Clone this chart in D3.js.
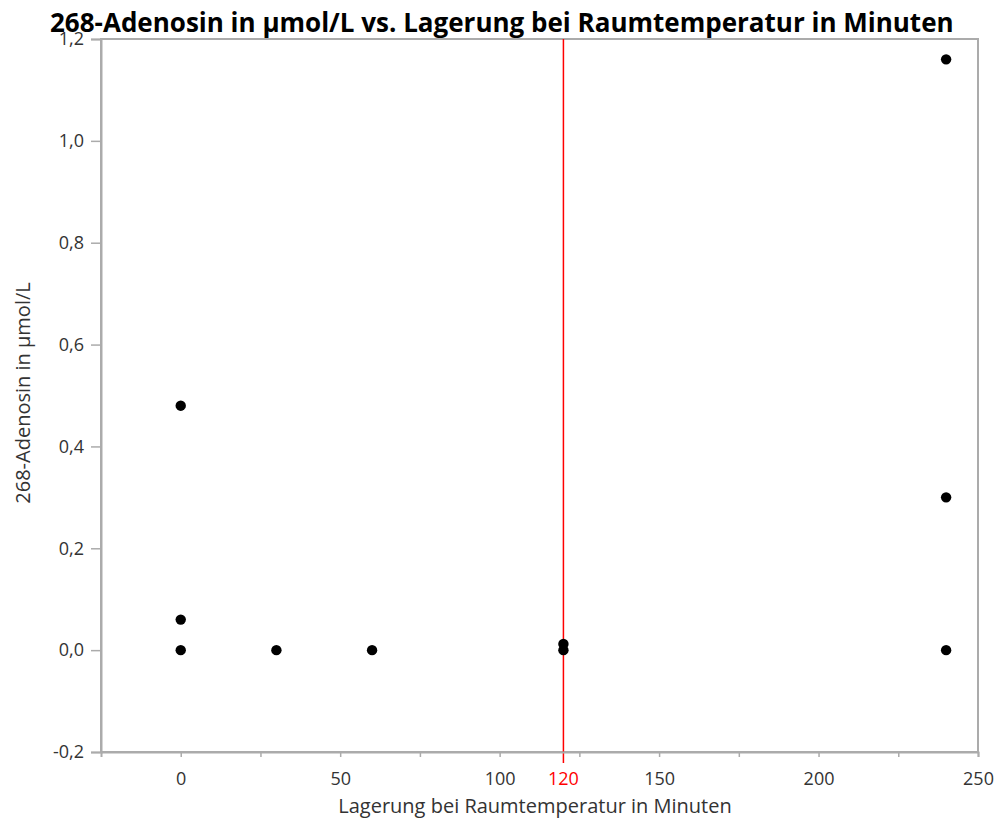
<!DOCTYPE html>
<html>
<head>
<meta charset="utf-8">
<script src="https://cdn.jsdelivr.net/npm/d3@7"></script>
<style>
  body { margin: 0; background: #fff; }
  text { font-family: "Open Sans", "Noto Sans", sans-serif; }
</style>
</head>
<body>
<svg id="chart" width="1001" height="825"></svg>
<script>
// data
var minutes = [0, 0, 0, 30, 60, 120, 120, 240, 240, 240];
var adenosin = [0.48, 0.06, 0.0, 0.0, 0.0, 0.0, 0.012, 1.16, 0.30, 0.0];
var xTicks = [0, 50, 100, 150, 200, 250];
var xMinorTicks = [25, 75, 125, 175, 225];
var yTicks = [-0.2, 0, 0.2, 0.4, 0.6, 0.8, 1.0, 1.2];
var refLine = 120;

var titleText = "268-Adenosin in µmol/L vs. Lagerung bei Raumtemperatur in Minuten";
var xLabel = "Lagerung bei Raumtemperatur in Minuten";
var yLabel = "268-Adenosin in µmol/L";

var margin = {top: 39, right: 23, bottom: 73, left: 101};
var width = 1001 - margin.left - margin.right;
var height = 825 - margin.top - margin.bottom;

var axisColor = "#ababab";
var textColor = "#333";

var x = d3.scaleLinear().domain([-25, 250]).range([0, width]);
var y = d3.scaleLinear().domain([-0.2, 1.2]).range([height, 0]);

var svg = d3.select("#chart");

var main = svg.append("g")
    .attr("transform", "translate(" + margin.left + "," + margin.top + ")");

// frame
main.append("rect")
    .attr("width", width)
    .attr("height", height)
    .attr("fill", "none")
    .attr("stroke", axisColor)
    .attr("stroke-width", 2);

// reference line at 120
main.append("line")
    .attr("x1", x(refLine)).attr("x2", x(refLine))
    .attr("y1", 0).attr("y2", height + 11)
    .attr("stroke", "#ff0000")
    .attr("stroke-width", 1.5);

// x axis
var xAxis = d3.axisBottom(x).tickValues(xTicks).tickSize(5).tickPadding(15)
    .tickFormat(d3.format("d"));
var gx = main.append("g")
    .attr("transform", "translate(0," + height + ")")
    .call(xAxis);

main.append("g")
    .attr("transform", "translate(0," + height + ")")
    .call(d3.axisBottom(x).tickValues(xMinorTicks).tickSize(5).tickFormat(""))
    .call(function(g) { g.select(".domain").remove(); });

// y axis
var yAxis = d3.axisLeft(y).tickValues(yTicks).tickSize(10).tickPadding(7)
    .tickFormat(function(d) { return d3.format(".1f")(d).replace(".", ",").replace("−", "-"); });
var gy = main.append("g").call(yAxis);

[gx, gy].forEach(function(g) {
    g.select(".domain").attr("stroke", axisColor).attr("stroke-width", 2);
    g.selectAll(".tick text").attr("font-size", 18).attr("fill", textColor);
});
main.selectAll(".tick line").attr("stroke", axisColor).attr("stroke-width", 1.5);

// red label for the reference line
gx.append("text")
    .attr("x", x(refLine))
    .attr("y", 20)
    .attr("dy", "0.71em")
    .attr("text-anchor", "middle")
    .attr("font-size", 18)
    .attr("fill", "#ff0000")
    .text(refLine);

// points
var pts = minutes.map(function(m, i) { return [m, adenosin[i]]; });
main.append("g").selectAll("circle")
    .data(pts)
    .enter().append("circle")
    .attr("cx", function(d) { return x(d[0]); })
    .attr("cy", function(d) { return y(d[1]); })
    .attr("r", 5.2)
    .attr("fill", "#000");

// title drawn last (sits over the 1,2 label as in the original)
svg.append("text")
    .attr("x", 50)
    .attr("y", 32)
    .attr("font-size", 26)
    .attr("font-weight", "bold")
    .attr("fill", "#000")
    .text(titleText);

// axis titles
svg.append("text")
    .attr("x", 535)
    .attr("y", 813)
    .attr("text-anchor", "middle")
    .attr("font-size", 20)
    .attr("fill", textColor)
    .text(xLabel);

svg.append("text")
    .attr("transform", "translate(30," + 393 + ") rotate(-90)")
    .attr("text-anchor", "middle")
    .attr("font-size", 20)
    .attr("fill", textColor)
    .text(yLabel);
</script>
</body>
</html>
